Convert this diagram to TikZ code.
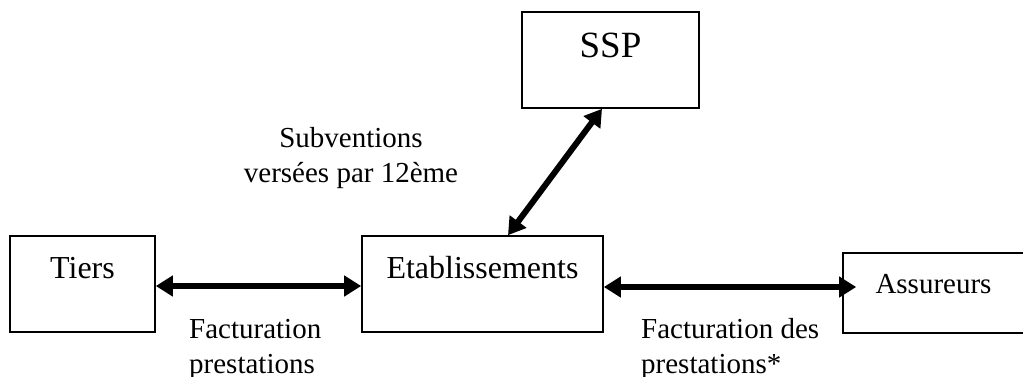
\documentclass[tikz,border=0pt]{standalone}
\usepackage{fontspec}
\setmainfont{Liberation Serif}
\usetikzlibrary{arrows.meta}
\tikzset{
  box/.style={draw=black, line width=1.6pt, rectangle, inner sep=0pt},
  boxtext/.style={inner sep=0pt, anchor=base, font=\fontsize{32}{38}\selectfont},
  lbl/.style={inner sep=0pt, font=\fontsize{29}{34.5}\selectfont},
  flow/.style={line width=6pt, {Triangle[length=17pt,width=20pt]}-{Triangle[length=17pt,width=20pt]}},
}
\begin{document}
\begin{tikzpicture}[x=1pt,y=-1pt]
  \useasboundingbox (0,0) rectangle (1023,376);
  \clip (0,0) rectangle (1023,376);
  % boxes
  \node[box, minimum width=177pt, minimum height=96pt] (ssp)   at (610.5,60) {};
  \node[box, minimum width=145pt, minimum height=96pt] (tiers) at (82.5,284) {};
  \node[box, minimum width=241pt, minimum height=96pt] (etab)  at (482.5,284) {};
  \node[box, minimum width=190pt, minimum height=80pt] (assur) at (938,293) {};
  % box captions
  \node[boxtext, font=\fontsize{37}{42}\selectfont] (tssp) at (610.5,57) {SSP};
  \node[boxtext] (ttiers) at (82.5,278) {Tiers};
  \node[boxtext] (tetab)  at (482.5,278) {Etablissements};
  \node[boxtext, font=\fontsize{29}{35}\selectfont] (tassur) at (933.5,293) {Assureurs};
  % flows
  \draw[flow] (tiers.east) ++(0,2) coordinate (t1) -- (t1 -| etab.west);
  \draw[flow, shorten >=-14pt] (etab.east) ++(0,3) coordinate (e1) -- (e1 -| assur.west);
  \draw[flow] ([xshift=25.5pt]etab.north) -- ([xshift=-8.5pt]ssp.south);
  % flow labels (anchored on the baseline of their last line)
  \node[lbl, align=center, anchor=base] (lsub) at (351,182) {Subventions\\vers\'ees par 12\`eme};
  \node[lbl, align=left, anchor=base west] (lfac) at (189,373) {Facturation\\prestations};
  \node[lbl, align=left, anchor=base west] (lass) at (641,373) {Facturation des\\prestations*};
\end{tikzpicture}
\end{document}
